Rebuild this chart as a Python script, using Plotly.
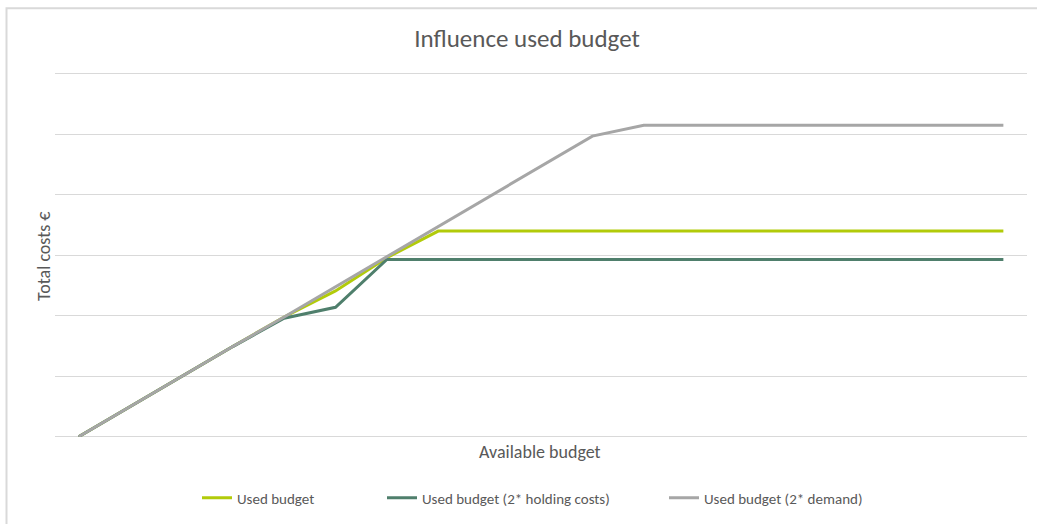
import plotly.graph_objects as go

# Available budget steps (category axis, labels not displayed)
budget = [0, 50, 100, 150, 200, 250, 300, 350, 400, 450,
          500, 550, 600, 650, 700, 750, 800, 850, 900]

# Total costs for each scenario
used_budget = [0, 50, 99, 149, 198, 241, 296, 340, 340, 340,
               340, 340, 340, 340, 340, 340, 340, 340, 340]
used_budget_holding = [0, 50, 99, 149, 196, 214, 293, 293, 293, 293,
                       293, 293, 293, 293, 293, 293, 293, 293, 293]
used_budget_demand = [0, 50, 99, 149, 198, 248, 298, 347, 397, 447,
                      497, 515, 515, 515, 515, 515, 515, 515, 515]

series_names = ["Used budget", "Used budget (2* holding costs)", "Used budget (2* demand)"]
series_colors = ["#B2CB0A", "#4F7F6C", "#A6A6A6"]

FONT = "Carlito, Lato, 'Liberation Sans', sans-serif"
TEXT_COLOR = "#595959"
GRID = "#D9D9D9"

W, H = 1037, 524
L, R, T, B = 55, 10, 72.2, 87
pw, ph = W - L - R, H - T - B


def px_x(p):
    return (p - L) / pw


def px_y(q):
    return (H - B - q) / ph


# each series gets its own legend box so entries sit where they belong
legend_ids = ["legend", "legend2", "legend3"]
legend_left = [197, 382, 664]

fig = go.Figure()
for name, values, color, lid in zip(series_names,
                                    [used_budget, used_budget_holding, used_budget_demand],
                                    series_colors, legend_ids):
    fig.add_trace(go.Scatter(
        x=budget, y=values, name=name, mode="lines",
        line=dict(color=color, width=3), legend=lid,
    ))

legend_style = dict(orientation="h", yanchor="middle", xanchor="left",
                    y=px_y(498), bgcolor="rgba(0,0,0,0)",
                    font=dict(family=FONT, size=15, color=TEXT_COLOR))

fig.update_layout(
    width=W, height=H,
    margin=dict(l=L, r=R, t=T, b=B),
    paper_bgcolor="white", plot_bgcolor="white",
    font=dict(family=FONT, color=TEXT_COLOR, size=12),
    title=dict(text="Influence used budget", xref="paper", x=px_x(527),
               xanchor="center", y=1 - 38 / H, yanchor="middle",
               font=dict(family=FONT, size=25, color=TEXT_COLOR)),
    xaxis=dict(range=[budget[0] - 23, budget[-1] + 23], showticklabels=False,
               showgrid=False, zeroline=False, showline=False, ticks=""),
    yaxis=dict(range=[-0.5, 603], dtick=100, showticklabels=False,
               showgrid=True, gridcolor=GRID, gridwidth=1,
               zeroline=True, zerolinecolor=GRID, zerolinewidth=1,
               showline=False, ticks=""),
    legend=dict(x=px_x(legend_left[0]), **legend_style),
    legend2=dict(x=px_x(legend_left[1]), **legend_style),
    legend3=dict(x=px_x(legend_left[2]), **legend_style),
    showlegend=True,
    annotations=[
        dict(text="Available budget", xref="paper", yref="paper",
             x=px_x(540), y=px_y(452), xanchor="center", yanchor="middle",
             showarrow=False, font=dict(family=FONT, size=18, color=TEXT_COLOR)),
        dict(text="Total costs €", xref="paper", yref="paper",
             x=px_x(44), y=px_y(257), xanchor="center", yanchor="middle",
             textangle=-90, showarrow=False,
             font=dict(family=FONT, size=18, color=TEXT_COLOR)),
    ],
    shapes=[
        dict(type="rect", xref="paper", yref="paper",
             x0=px_x(6.5), x1=px_x(1045), y0=px_y(535), y1=px_y(8.5),
             line=dict(color=GRID, width=2), fillcolor="rgba(0,0,0,0)",
             layer="below"),
    ],
)

fig.write_html("out.html")
